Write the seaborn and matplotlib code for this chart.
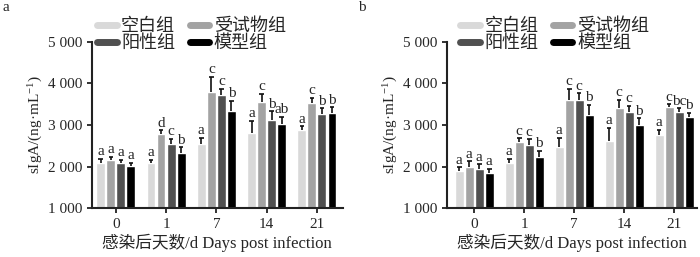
import numpy as np
import pandas as pd
import matplotlib
matplotlib.use("Agg")
import matplotlib.pyplot as plt
import seaborn as sns
from matplotlib.ticker import FuncFormatter
from matplotlib.lines import Line2D

# 数据
days = ["0", "1", "7", "14", "21"]
groups = ["空白组", "受试物组", "阳性组", "模型组"]
colors = ["#d9d9d9", "#a3a3a3", "#505050", "#000000"]

a_blank = [2080, 2080, 2550, 2800, 2870]
a_test = [2150, 2790, 3790, 3550, 3520]
a_pos = [2090, 2540, 3730, 3130, 3260]
a_model = [2010, 2330, 3330, 3020, 3280]
a_err_blank = [100, 90, 150, 300, 100]
a_err_test = [90, 80, 370, 200, 140]
a_err_pos = [80, 130, 140, 200, 140]
a_err_model = [80, 130, 250, 180, 150]
a_letters = [["a", "a", "a", "a"], ["a", "d", "c", "b"], ["a", "c", "c", "b"],
             ["a", "c", "b", "ab"], ["a", "c", "b", "b"]]

b_blank = [1890, 2080, 2460, 2620, 2770]
b_test = [2000, 2580, 3610, 3400, 3430]
b_pos = [1945, 2520, 3610, 3310, 3310]
b_model = [1850, 2240, 3240, 2990, 3190]
b_err_blank = [90, 110, 240, 320, 110]
b_err_test = [130, 100, 260, 200, 70]
b_err_pos = [110, 140, 150, 150, 90]
b_err_model = [100, 140, 250, 170, 110]
b_letters = [["a", "a", "a", "a"], ["a", "c", "c", "b"], ["a", "c", "c", "b"],
             ["a", "c", "c", "b"], ["a", "c", "bc", "b"]]

sns.set_theme(style="ticks")
fam = ["Liberation Serif", "Noto Sans CJK SC", "DejaVu Sans"]
plt.rcParams["font.family"] = fam
plt.rcParams["mathtext.default"] = "regular"
plt.rcParams["axes.unicode_minus"] = False


def draw_panel(ax, vals, errs, letters, tag, xlim, leg_x):
    rows = []
    for g, v in zip(groups, vals):
        for d, y in zip(days, v):
            rows.append({"day": d, "group": g, "value": y})
    df = pd.DataFrame(rows)
    sns.barplot(data=df, x="day", y="value", hue="group", order=days,
                hue_order=groups, palette=colors, errorbar=None, width=0.8,
                gap=0.12, saturation=1, legend=False, ax=ax)
    bar_sets = list(ax.containers)
    for gi, cont in enumerate(bar_sets):
        xs = np.array([p.get_x() + p.get_width() / 2 for p in cont.patches])
        hs = np.array([p.get_height() for p in cont.patches])
        tops = hs + np.array(errs[gi])
        # 只画上半部分误差线
        ax.vlines(xs, hs, tops, color="#111111", lw=1.2)
        ax.hlines(tops, xs - 0.045, xs + 0.045, color="#111111", lw=1.2)
        for di in range(len(xs)):
            ax.text(xs[di], tops[di] + 15, letters[di][gi],
                    ha="center", va="bottom", fontsize=11, family=fam)
    ax.set_ylim(1000, 5000)
    ax.set_xlim(*xlim)
    ax.set_yticks([1000, 2000, 3000, 4000, 5000])
    ax.yaxis.set_major_formatter(FuncFormatter(lambda v, p: f"{int(v):,}".replace(",", " ")))
    ax.set_xlabel("感染后天数/d Days post infection", fontsize=12, labelpad=2)
    ax.set_ylabel("sIgA/(ng·mL$^{-1}$)", fontsize=11, labelpad=2)
    ax.tick_params(axis="both", labelsize=11, width=1.3, length=3.5, color="#222222")
    for s in ["top", "right"]:
        ax.spines[s].set_visible(False)
    for s in ["left", "bottom"]:
        ax.spines[s].set_linewidth(1.5)
        ax.spines[s].set_color("#222222")
    handles = [Line2D([], [], color=c, lw=5) for c in colors]
    order = [0, 2, 1, 3]
    ax.legend([handles[i] for i in order], [groups[i] for i in order], ncol=2,
              frameon=False, loc="lower left", bbox_to_anchor=(leg_x, 0.94),
              fontsize=13, handlelength=1.1, handletextpad=0.25,
              columnspacing=0.8, labelspacing=0.0, borderpad=0, borderaxespad=0)
    ax.figure.text(ax.get_position().x0 - 0.128, 0.995, tag, fontsize=11,
                   ha="left", va="top", family=fam)


fig = plt.figure(figsize=(7, 2.57), dpi=100)
ax1 = fig.add_axes([0.131, 0.19, 0.359, 0.647])
ax2 = fig.add_axes([0.639, 0.19, 0.357, 0.647])

draw_panel(ax1, [a_blank, a_test, a_pos, a_model],
           [a_err_blank, a_err_test, a_err_pos, a_err_model], a_letters, "a",
           (-0.48, 4.52), 0.02)
draw_panel(ax2, [b_blank, b_test, b_pos, b_model],
           [b_err_blank, b_err_test, b_err_pos, b_err_model], b_letters, "b",
           (-0.54, 4.46), 0.05)

fig.savefig("out.png", dpi=100)
